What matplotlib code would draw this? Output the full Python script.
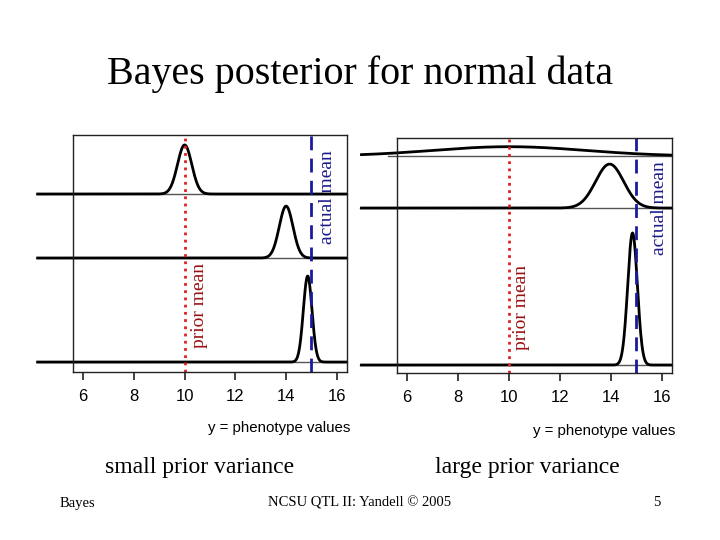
import numpy as np
import matplotlib
matplotlib.use("Agg")
import matplotlib.pyplot as plt

# ---- data ----
prior_mean = 10
actual_mean = 15
x_ticks = [6, 8, 10, 12, 14, 16]
xlabel = "y = phenotype values"

# small prior variance panel: posterior means / sds for three rows
small_means = [10.0, 14.0, 14.85]
small_sds = [0.28, 0.27, 0.17]
small_heights = [0.207, 0.219, 0.363]     # peak heights (axes fraction)
small_baselines = [0.751, 0.481, 0.042]

# large prior variance panel
large_means = [10.0, 13.95, 14.85]
large_sds = [3.0, 0.55, 0.19]
large_heights = [0.04, 0.187, 0.562]
large_baselines = [0.923, 0.702, 0.034]

SERIF = ["Liberation Serif", "DejaVu Serif"]
SANS = ["Liberation Sans", "DejaVu Sans"]

fig = plt.figure(figsize=(7.2, 5.4), dpi=100)
W, H = 720, 540


def make_panel(left, right, top, bottom, means, sds, heights, baselines,
               base_left, first_base_left, pm_xy, am_xy):
    ax = fig.add_axes([left / W, 1 - bottom / H, (right - left) / W, (bottom - top) / H])
    ax.set_xlim(5.6, 16.4)
    ax.set_ylim(0, 1)
    ax.set_yticks([])
    ax.set_xticks(x_ticks)
    ax.set_xticklabels([str(t) for t in x_ticks], fontfamily=SANS, fontsize=12)
    ax.tick_params(axis="x", length=6, width=1.2, pad=6, color="#222222")
    for s in ax.spines.values():
        s.set_linewidth(1.0)
        s.set_color("#222222")
    x = np.linspace(4.15, 16.4, 800)
    for i, (m, sd, h, b) in enumerate(zip(means, sds, heights, baselines)):
        y = b + h * np.exp(-0.5 * ((x - m) / sd) ** 2)
        xs = np.linspace(first_base_left if i == 0 else base_left, 16.4, 2)
        ax.plot(xs, [b, b], color="#555555", lw=1.0, clip_on=False)
        ax.plot(x, y, color="black", lw=2.0, clip_on=False, solid_capstyle="butt")
    ax.axvline(prior_mean, color="#e02020", lw=2.0, linestyle=(0, (1, 1.6)))
    ax.axvline(actual_mean, color="#1a1aa0", lw=2.0, linestyle=(0, (5, 3)))
    ax.text(pm_xy[0] / W, 1 - pm_xy[1] / H, "prior mean", transform=fig.transFigure,
            rotation=90, ha="center", va="center", color="#9a1010",
            fontfamily=SERIF, fontsize=14)
    ax.text(am_xy[0] / W, 1 - am_xy[1] / H, "actual mean", transform=fig.transFigure,
            rotation=90, ha="center", va="center", color="#1a1a8a",
            fontfamily=SERIF, fontsize=14)
    return ax


axl = make_panel(73, 347, 135, 372, small_means, small_sds, small_heights,
                 small_baselines, 4.18, 4.18, (199, 306), (327, 197))
axr = make_panel(397, 672, 138, 373, large_means, large_sds, large_heights,
                 large_baselines, 4.14, 5.25, (521, 307), (660, 208))

fig.text(350 / W, 1 - 428 / H, xlabel, ha="right", va="center",
         fontfamily=SANS, fontsize=10.8)
fig.text(675 / W, 1 - 431 / H, xlabel, ha="right", va="center",
         fontfamily=SANS, fontsize=10.8)

fig.text(360 / W, 1 - 74 / H, "Bayes posterior for normal data", ha="center",
         va="center", fontfamily=SERIF, fontsize=28.8)
fig.text(200 / W, 1 - 468 / H, "small prior variance", ha="center", va="center",
         fontfamily=SERIF, fontsize=17)
fig.text(527 / W, 1 - 468 / H, "large prior variance", ha="center", va="center",
         fontfamily=SERIF, fontsize=17)
fig.text(60 / W, 1 - 503 / H, "Bayes", ha="left", va="center",
         fontfamily=SERIF, fontsize=10.5)
fig.text(360 / W, 1 - 503 / H, "NCSU QTL II: Yandell \u00a9 2005", ha="center",
         va="center", fontfamily=SERIF, fontsize=10.5)
fig.text(657 / W, 1 - 503 / H, "5", ha="center", va="center",
         fontfamily=SERIF, fontsize=10.5)

fig.savefig("out.png", dpi=100)
